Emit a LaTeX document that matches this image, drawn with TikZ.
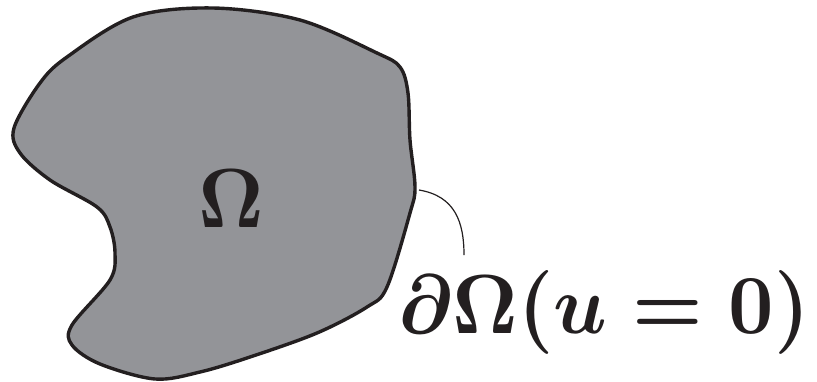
\documentclass[tikz,border=0pt]{standalone}
\usepackage{graphicx}
\definecolor{blobgray}{RGB}{147,148,152}
\definecolor{ink}{RGB}{35,31,32}
\tikzset{
  blob/.style={fill=blobgray, draw=ink, line width=3.4pt, line join=round},
  leader/.style={draw=ink, line width=1.2pt},
  biglabel/.style={inner sep=0pt, text=ink}
}
\newcommand{\hugemath}[1]{\scalebox{7.9}[8.4]{\boldmath$#1$}}
\begin{document}
\begin{tikzpicture}[x=1pt,y=-1pt]
\useasboundingbox (0,0) rectangle (817,381);
\path[blob] plot[smooth cycle, tension=0.55] coordinates {
 (14,128) (40,83) (67,57) (133,17) (213,8) (300,20) (377,53) (400,67) (408,93)
 (410,140) (415,187) (410,213) (387,287) (367,307) (317,333) (250,357) (200,372)
 (155,379) (100,364) (72,345) (72,325) (110,280) (115,253) (110,227) (97,207)
 (50,180) (20,153)};
\node[biglabel, anchor=base] (om) at (231,227) {\hugemath{\Omega}};
\node[biglabel, anchor=base west] (bd) at (398,333) {\hugemath{\partial\Omega(u=0)}};
\coordinate (bp) at (419,190);
\coordinate (lt) at (464,255);
\draw[leader] (bp) .. controls (455,196) and (464,222) .. (lt);
\end{tikzpicture}
\end{document}
